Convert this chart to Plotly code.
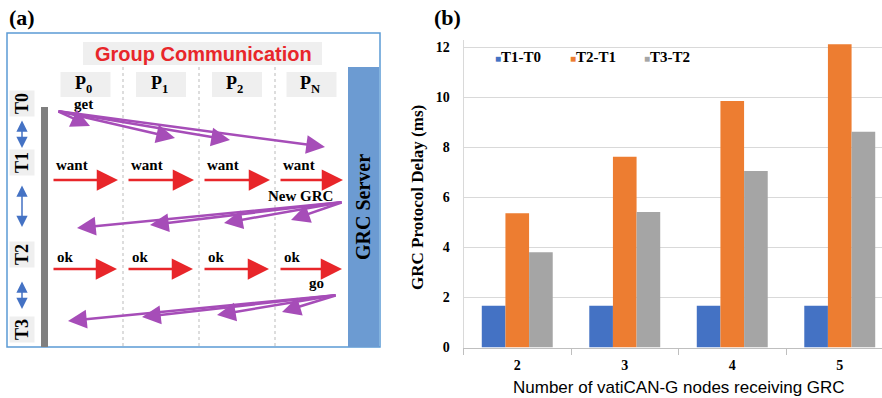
import plotly.graph_objects as go

W, H = 882, 398

# ---------------- data: panel (b) ----------------
nodes = ["2", "3", "4", "5"]
series_names = ["T1-T0", "T2-T1", "T3-T2"]
t1_t0 = [1.67, 1.67, 1.67, 1.67]
t2_t1 = [5.37, 7.63, 9.86, 12.13]
t3_t2 = [3.81, 5.42, 7.06, 8.63]
series_colors = ["#4472C4", "#ED7D31", "#A5A5A5"]
y_ticks = [0, 2, 4, 6, 8, 10, 12]
x_title = "Number of vatiCAN-G nodes receiving GRC"
y_title = "GRC Protocol Delay (ms)"

# ---------------- text: panel (a) ----------------
diagram_title = "Group Communication"
server_label = "GRC Server"
processes = ["P<sub>0</sub>", "P<sub>1</sub>", "P<sub>2</sub>", "P<sub>N</sub>"]
phases = ["T0", "T1", "T2", "T3"]
msg_get, msg_want, msg_new, msg_ok, msg_go = "get", "want", "New GRC", "ok", "go"

SERIF = "Liberation Serif"
SANS = "Liberation Sans"
PURPLE = "#A64DB8"
RED = "#E8262A"
BLUE = "#4472C4"
LGRAY = "#EFEFEF"

# ---------------- layout geometry (pixels) ----------------
lane_b = [48, 123, 199, 275, 348]          # lane boundaries
lane_c = [(lane_b[i] + lane_b[i + 1]) / 2 for i in range(4)]
phase_y = [104, 163, 255, 330]


def X(px):
    return px / W


def Y(py):
    return 1 - py / H


shapes = []
annotations = []


def rect(x0, y0, x1, y1, fill, line_color=None, lw=0):
    shapes.append(dict(type="rect", xref="paper", yref="paper",
                       x0=X(x0), x1=X(x1), y0=Y(y1), y1=Y(y0),
                       fillcolor=fill, layer="below",
                       line=dict(color=line_color or fill, width=lw)))


def vline(x, y0, y1, color, dash="dot", width=1):
    shapes.append(dict(type="line", xref="paper", yref="paper",
                       x0=X(x), x1=X(x), y0=Y(y0), y1=Y(y1),
                       line=dict(color=color, width=width, dash=dash)))


def text(x, y, s, size, color="black", family=SERIF, angle=0, bg=None,
         bold=True, xanchor="center"):
    annotations.append(dict(xref="paper", yref="paper", x=X(x), y=Y(y),
                            text=f"<b>{s}</b>" if bold else s, showarrow=False,
                            textangle=angle, xanchor=xanchor, yanchor="middle",
                            bgcolor=bg, borderpad=2,
                            font=dict(family=family, size=size, color=color)))


def arrow(tail, head, color, width, size, both=False):
    d = dict(xref="paper", yref="paper", x=X(head[0]), y=Y(head[1]),
             ax=tail[0] - head[0], ay=tail[1] - head[1], axref="pixel", ayref="pixel",
             text="", showarrow=True, arrowhead=2, arrowsize=size,
             arrowwidth=width, arrowcolor=color, standoff=0, startstandoff=0)
    if both:
        d.update(arrowside="end+start", startarrowhead=2, startarrowsize=size)
    annotations.append(d)


# ---- panel (a) frame ----
rect(7, 33, 380, 347, "rgba(0,0,0,0)", "#5B9BD5", 1.5)
rect(83, 42, 322, 65, LGRAY)
text(203, 54, diagram_title, 20, RED, SANS)
text(22, 17, "(a)", 22)
text(447, 17, "(b)", 22)

# server column
rect(348, 67, 379, 347, "#6C9BD2")
text(363, 207, server_label, 20, angle=-90)

# lanes
for xb in lane_b[1:4]:
    vline(xb, 67, 347, "#BBBBBB")
for i, p in enumerate(processes):
    rect(lane_c[i] - 25, 72, lane_c[i] + 25, 97, LGRAY)
    text(lane_c[i] - 2, 85, p, 18)

# timeline bar + phase labels
rect(41, 107, 48, 347, "#7F7F7F")
for t, yy in zip(phases, phase_y):
    text(22, yy, t, 18, angle=-90, bg=LGRAY)
for (a, b) in [(119, 148), (184, 227), (280, 309)]:
    arrow((22, a), (22, b), BLUE, 1.5, 1.5, both=True)

# get (P0 -> all)
text(83, 104, msg_get, 15)
for hx, hy in zip([90, 175, 230, 325], [126, 138, 140, 147]):
    arrow((57, 111), (hx, hy), PURPLE, 2.5, 1.5)

# want
for i in range(4):
    arrow((lane_b[i] + 4, 180), (lane_b[i + 1] - 5, 180), RED, 2.5, 1.7)
    text(lane_b[i] + 5, 165, msg_want, 15, xanchor="left")

# New GRC (server -> all)
text(300, 196, msg_new, 15)
for hx, hy in zip([77, 150, 224, 291], [228, 225, 223, 220]):
    arrow((343, 202), (hx, hy), PURPLE, 2.5, 1.5)

# ok
for i in range(4):
    arrow((lane_b[i] + 4, 269), (lane_b[i + 1] - 6, 269), RED, 2.5, 1.7)
    text(lane_b[i] + 6, 257, msg_ok, 15, xanchor="left")

# go (server -> all)
text(316, 283, msg_go, 15)
for hx, hy in zip([68, 142, 217, 282], [321, 317, 315, 312]):
    arrow((337, 295), (hx, hy), PURPLE, 2.5, 1.5)

# ---- panel (b) ----
fig = go.Figure()
for name, vals, col in zip(series_names, [t1_t0, t2_t1, t3_t2], series_colors):
    fig.add_trace(go.Bar(x=nodes, y=vals, name=name, marker_color=col,
                         marker_line_width=0, showlegend=False))

# legend drawn as text entries
for name, col, lx in zip(series_names, series_colors, [493, 568, 642]):
    annotations.append(dict(xref="paper", yref="paper", x=X(lx), y=Y(57),
                            xanchor="left", yanchor="middle", showarrow=False,
                            text=f"<span style='color:{col};font-size:10px'>■</span><b>{name}</b>",
                            font=dict(family=SERIF, size=15, color="black")))

px_left, cat_w, px_base, px_top = 463.5, 107.5, 347.5, 40
text((px_left + px_left + 4 * cat_w) / 2, 387, x_title, 17, "black", SANS, bold=False)
text(417, 198, y_title, 17, angle=-90)

fig.update_layout(
    width=W, height=H, margin=dict(l=0, r=0, t=0, b=0, autoexpand=False),
    paper_bgcolor="white", plot_bgcolor="white",
    barmode="group", bargap=0.34, bargroupgap=0,
    shapes=shapes, annotations=annotations,
    xaxis=dict(domain=[px_left / W, 1], type="category",
               range=[-0.5, (W - px_left) / cat_w - 0.5],
               showline=True, linecolor="#BFBFBF", linewidth=1,
               ticks="outside", tickson="boundaries", ticklen=6, tickcolor="#BFBFBF",
               showgrid=False, automargin=False, ticklabelstandoff=5,
               tickfont=dict(family=SERIF, size=14, color="black", weight="bold")),
    yaxis=dict(domain=[(H - px_base) / H, (H - px_top) / H],
               range=[0, 12.3], tickvals=y_ticks, gridcolor="#D9D9D9",
               showline=True, linecolor="#D9D9D9", zeroline=False, automargin=False,
               ticks="", ticklabelstandoff=10,
               tickfont=dict(family=SERIF, size=14, color="black", weight="bold")),
)

fig.write_html(
    "out.html",
    config={"displayModeBar": False},
    post_script=(
        "document.documentElement.style.margin='0';"
        "document.documentElement.style.overflow='hidden';"
        "document.body.style.margin='0';"
        "document.body.style.overflow='hidden';"
    ),
)
